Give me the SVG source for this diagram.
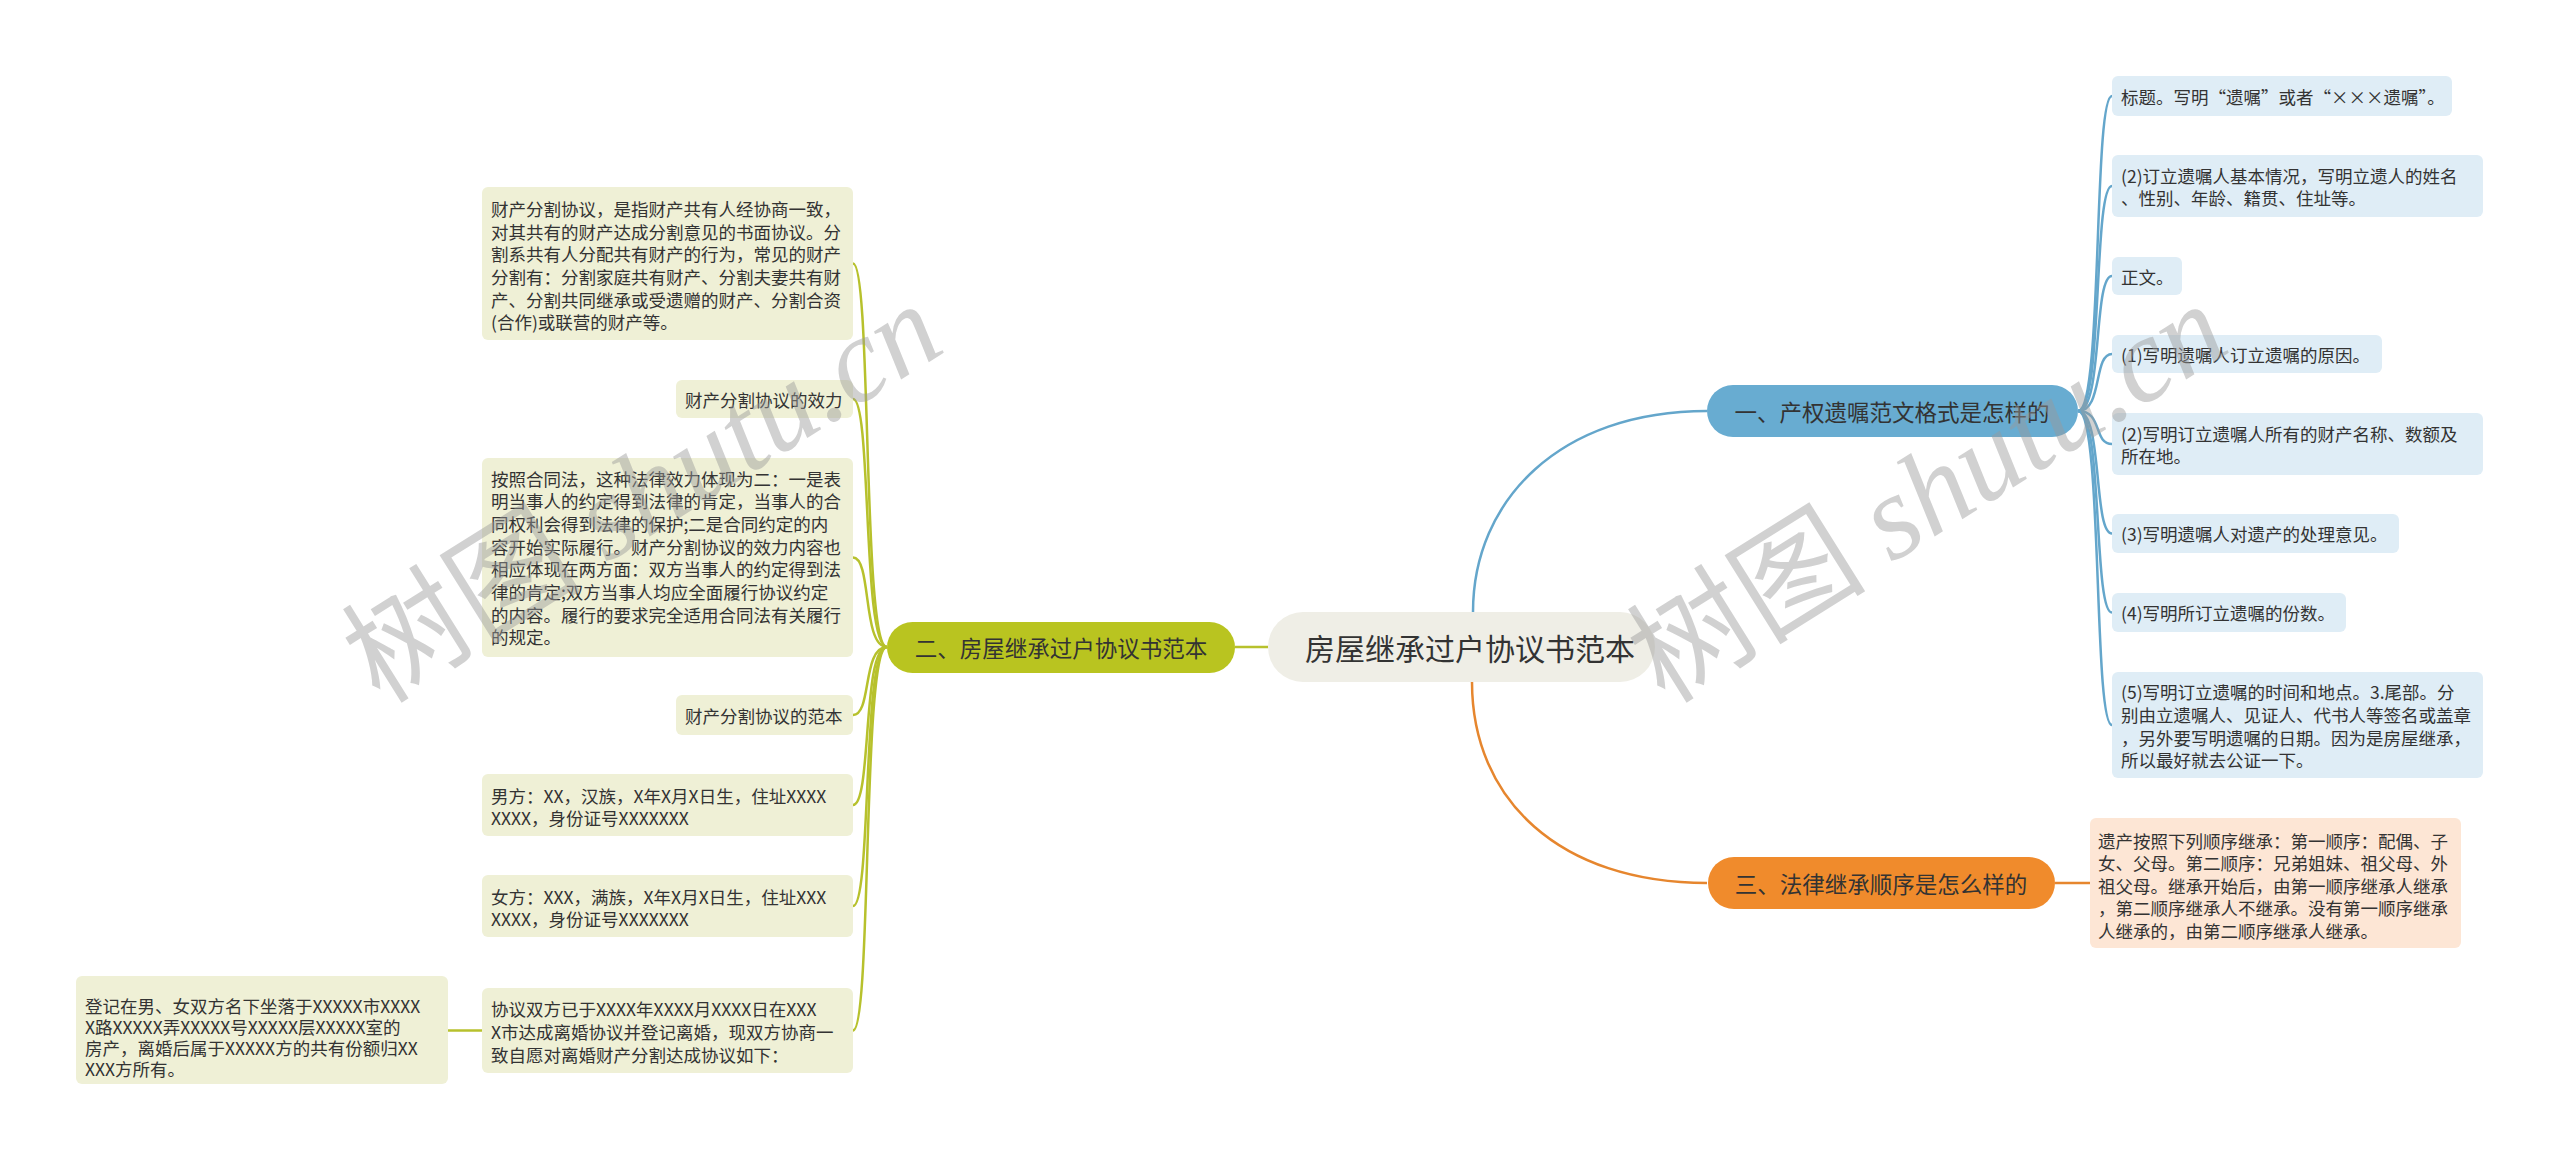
<svg xmlns="http://www.w3.org/2000/svg" width="2560" height="1161" viewBox="0 0 2560 1161">
<style>
text{font-family:"Noto Sans CJK SC","Liberation Sans",sans-serif;fill:#333;dominant-baseline:central}
.t{font-size:17.5px}
.n{font-size:22.5px}
.c{font-size:30px}
.bl{fill:none;stroke:#64a6cb;stroke-width:2.5}
.ol{fill:none;stroke:#b7c12c;stroke-width:2.5}
.or{fill:none;stroke:#e6862e;stroke-width:2.5}
.bb{fill:#dfedf6}
.ob{fill:#eff0d6}
.rb{fill:#fde6d5}
.wm{fill:#9a9a9a;opacity:0.45}
</style>
<rect width="2560" height="1161" fill="#fff"/>
<g id="connectors">
<path class="bl" d="M1473,612 C1473,500 1560,411 1707,411" stroke-width="3"/>
<path class="or" d="M1472,682 C1472,800 1560,883 1707,883" stroke-width="3"/>
<path class="ol" d="M1268,647 L1235,647" stroke-width="3"/>
<path class="bl" d="M2078,411 C2103,411 2093,96 2112,96"/>
<path class="bl" d="M2078,411 C2103,411 2093,186 2112,186"/>
<path class="bl" d="M2078,411 C2103,411 2093,276 2112,276"/>
<path class="bl" d="M2078,411 C2103,411 2093,354 2112,354"/>
<path class="bl" d="M2078,411 C2103,411 2093,444 2112,444"/>
<path class="bl" d="M2078,411 C2103,411 2093,533.5 2112,533.5"/>
<path class="bl" d="M2078,411 C2103,411 2093,612.5 2112,612.5"/>
<path class="bl" d="M2078,411 C2103,411 2093,725 2112,725"/>
<path class="or" d="M2055,883 L2090,883"/>
<path class="ol" d="M887,647 C862,647 872,263.5 853,263.5"/>
<path class="ol" d="M887,647 C862,647 872,399 853,399"/>
<path class="ol" d="M887,647 C862,647 872,557.5 853,557.5"/>
<path class="ol" d="M887,647 C862,647 872,715 853,715"/>
<path class="ol" d="M887,647 C862,647 872,805 853,805"/>
<path class="ol" d="M887,647 C862,647 872,906 853,906"/>
<path class="ol" d="M887,647 C862,647 872,1030.5 853,1030.5"/>
<path class="ol" d="M482,1030.5 L448,1030.5"/>
</g>
<g id="root">
<rect x="1268" y="612" width="387" height="70" rx="35" fill="#efeee6"/>
<text class="c" x="1470" y="647" text-anchor="middle">房屋继承过户协议书范本</text>
</g>
<g id="branch1">
<rect x="1707" y="385" width="371" height="52" rx="26" fill="#68acd1"/>
<text class="n" x="1892" y="411" text-anchor="middle">一、产权遗嘱范文格式是怎样的</text>
</g>
<g id="b1c1"><rect class="bb" x="2112" y="76" width="340" height="40" rx="6"/><text class="t" x="2121" y="96">标题。写明“遗嘱”或者“×××遗嘱”。</text></g>
<g id="b1c2"><rect class="bb" x="2112" y="155" width="371" height="62" rx="6"/><text class="t" x="2121" y="175">(2)订立遗嘱人基本情况，写明立遗人的姓名</text><text class="t" x="2121" y="197">、性别、年龄、籍贯、住址等。</text></g>
<g id="b1c3"><rect class="bb" x="2112" y="257" width="70" height="38" rx="6"/><text class="t" x="2121" y="276">正文。</text></g>
<g id="b1c4"><rect class="bb" x="2112" y="335" width="270" height="38" rx="6"/><text class="t" x="2121" y="354">(1)写明遗嘱人订立遗嘱的原因。</text></g>
<g id="b1c5"><rect class="bb" x="2112" y="413" width="371" height="62" rx="6"/><text class="t" x="2121" y="433">(2)写明订立遗嘱人所有的财产名称、数额及</text><text class="t" x="2121" y="455">所在地。</text></g>
<g id="b1c6"><rect class="bb" x="2112" y="514" width="287" height="39" rx="6"/><text class="t" x="2121" y="533.5">(3)写明遗嘱人对遗产的处理意见。</text></g>
<g id="b1c7"><rect class="bb" x="2112" y="593" width="234" height="39" rx="6"/><text class="t" x="2121" y="612.5">(4)写明所订立遗嘱的份数。</text></g>
<g id="b1c8"><rect class="bb" x="2112" y="672" width="371" height="106" rx="6"/><text class="t" x="2121" y="691">(5)写明订立遗嘱的时间和地点。3.尾部。分</text><text class="t" x="2121" y="714">别由立遗嘱人、见证人、代书人等签名或盖章</text><text class="t" x="2121" y="737">，另外要写明遗嘱的日期。因为是房屋继承，</text><text class="t" x="2121" y="759">所以最好就去公证一下。</text></g>
<g id="branch3">
<rect x="1708" y="857" width="347" height="52" rx="26" fill="#f08b2c"/>
<text class="n" x="1881" y="883" text-anchor="middle">三、法律继承顺序是怎么样的</text>
</g>
<g id="b3c1"><rect class="rb" x="2090" y="818" width="371" height="130" rx="6"/>
<text class="t" x="2098" y="840">遗产按照下列顺序继承：第一顺序：配偶、子</text>
<text class="t" x="2098" y="862.5">女、父母。第二顺序：兄弟姐妹、祖父母、外</text>
<text class="t" x="2098" y="885">祖父母。继承开始后，由第一顺序继承人继承</text>
<text class="t" x="2098" y="907.5">，第二顺序继承人不继承。没有第一顺序继承</text>
<text class="t" x="2098" y="930">人继承的，由第二顺序继承人继承。</text></g>
<g id="branch2">
<rect x="887" y="622" width="348" height="51" rx="25.5" fill="#b9c420"/>
<text class="n" x="1061" y="647" text-anchor="middle">二、房屋继承过户协议书范本</text>
</g>
<g id="b2c1"><rect class="ob" x="482" y="187" width="371" height="153" rx="6"/>
<text class="t" x="491" y="208.3">财产分割协议，是指财产共有人经协商一致，</text>
<text class="t" x="491" y="231">对其共有的财产达成分割意见的书面协议。分</text>
<text class="t" x="491" y="253.7">割系共有人分配共有财产的行为，常见的财产</text>
<text class="t" x="491" y="276.4">分割有：分割家庭共有财产、分割夫妻共有财</text>
<text class="t" x="491" y="299.1">产、分割共同继承或受遗赠的财产、分割合资</text>
<text class="t" x="491" y="321.8">(合作)或联营的财产等。</text></g>
<g id="b2c2"><rect class="ob" x="676" y="380" width="177" height="38" rx="6"/><text class="t" x="685" y="399">财产分割协议的效力</text></g>
<g id="b2c3"><rect class="ob" x="482" y="458" width="371" height="199" rx="6"/>
<text class="t" x="491" y="478">按照合同法，这种法律效力体现为二：一是表</text>
<text class="t" x="491" y="500.7">明当事人的约定得到法律的肯定，当事人的合</text>
<text class="t" x="491" y="523.4">同权利会得到法律的保护;二是合同约定的内</text>
<text class="t" x="491" y="546.1">容开始实际履行。财产分割协议的效力内容也</text>
<text class="t" x="491" y="568.8">相应体现在两方面：双方当事人的约定得到法</text>
<text class="t" x="491" y="591.5">律的肯定;双方当事人均应全面履行协议约定</text>
<text class="t" x="491" y="614.2">的内容。履行的要求完全适用合同法有关履行</text>
<text class="t" x="491" y="636.9">的规定。</text></g>
<g id="b2c4"><rect class="ob" x="676" y="695" width="177" height="40" rx="6"/><text class="t" x="685" y="715">财产分割协议的范本</text></g>
<g id="b2c5"><rect class="ob" x="482" y="774" width="371" height="62" rx="6"/><text class="t" x="491" y="795">男方：XX，汉族，X年X月X日生，住址XXXX</text><text class="t" x="491" y="817">XXXX，身份证号XXXXXXX</text></g>
<g id="b2c6"><rect class="ob" x="482" y="875" width="371" height="62" rx="6"/><text class="t" x="491" y="896">女方：XXX，满族，X年X月X日生，住址XXX</text><text class="t" x="491" y="918">XXXX，身份证号XXXXXXX</text></g>
<g id="b2c7"><rect class="ob" x="482" y="988" width="371" height="85" rx="6"/><text class="t" x="491" y="1008">协议双方已于XXXX年XXXX月XXXX日在XXX</text><text class="t" x="491" y="1031">X市达成离婚协议并登记离婚，现双方协商一</text><text class="t" x="491" y="1054">致自愿对离婚财产分割达成协议如下：</text></g>
<g id="b2c7a"><rect class="ob" x="76" y="976" width="372" height="108" rx="6"/><text class="t" x="85" y="1005">登记在男、女双方名下坐落于XXXXX市XXXX</text><text class="t" x="85" y="1026.5">X路XXXXX弄XXXXX号XXXXX层XXXXX室的</text><text class="t" x="85" y="1047.7">房产，离婚后属于XXXXX方的共有份额归XX</text><text class="t" x="85" y="1068.8">XXX方所有。</text></g>
<g id="watermark">
<text class="wm" x="0" y="0" transform="translate(380,705) rotate(-32)" style="font-size:120px;dominant-baseline:auto">树图 <tspan style="font-family:'Liberation Serif',serif;font-style:italic">shutu.cn</tspan></text>
<text class="wm" x="0" y="0" transform="translate(1665,705) rotate(-32)" style="font-size:120px;dominant-baseline:auto">树图 <tspan style="font-family:'Liberation Serif',serif;font-style:italic">shutu.cn</tspan></text>
</g>
</svg>
